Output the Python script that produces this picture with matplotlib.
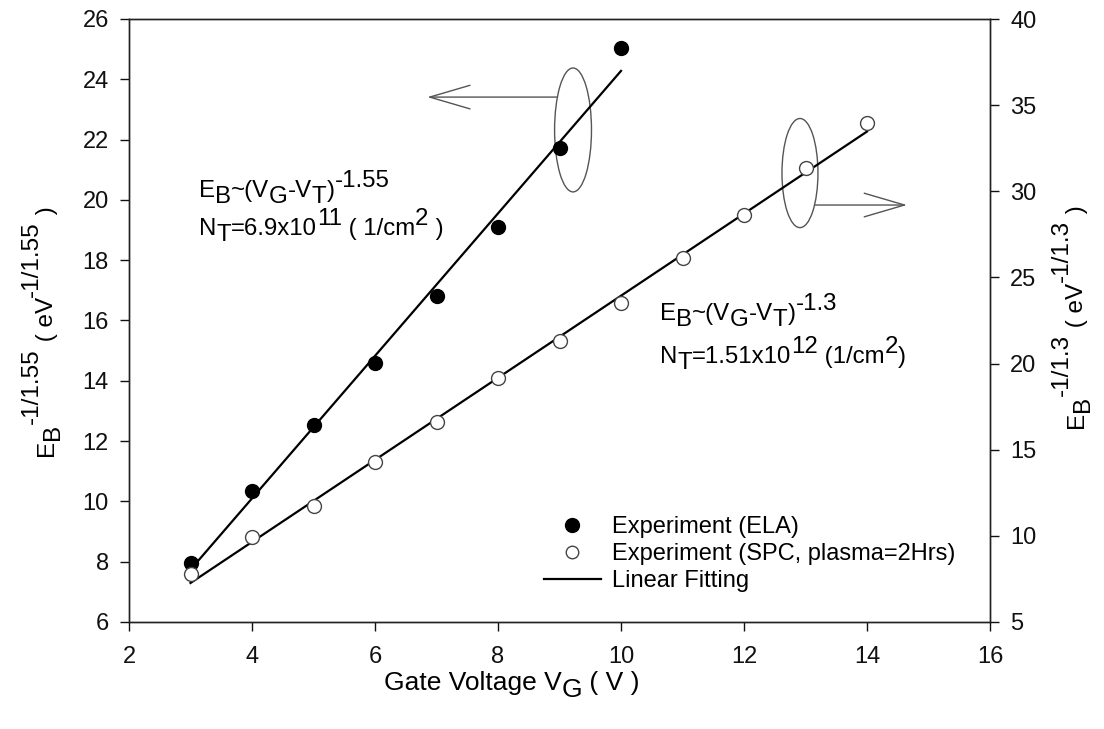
import numpy as np
import matplotlib
matplotlib.use("Agg")
import matplotlib.pyplot as plt
from matplotlib.patches import Ellipse
from matplotlib.lines import Line2D

plt.rcParams['font.family'] = ['Liberation Sans', 'DejaVu Sans']

# ---- data ----
vg_ela = [3, 4, 5, 6, 7, 8, 9, 10]
eb_ela = [7.95, 10.34, 12.52, 14.58, 16.80, 19.11, 21.73, 25.03]   # left axis

vg_spc = [3, 4, 5, 6, 7, 8, 9, 10, 11, 12, 13, 14]
eb_spc = [7.77, 9.92, 11.74, 14.27, 16.61, 19.15, 21.33, 23.53, 26.15, 28.62, 31.33, 33.96]  # right axis

x_ticks = [2, 4, 6, 8, 10, 12, 14, 16]
left_ticks = [6, 8, 10, 12, 14, 16, 18, 20, 22, 24, 26]
right_ticks = [5, 10, 15, 20, 25, 30, 35, 40]

legend_labels = ["Experiment (ELA)", "Experiment (SPC, plasma=2Hrs)", "Linear Fitting"]

W, H = 1104, 729
fig = plt.figure(figsize=(W / 100, H / 100), dpi=100)
L, R, T, B = 129, 990, 19, 622
ax = fig.add_axes([L / W, 1 - B / H, (R - L) / W, (B - T) / H])
ax2 = ax.twinx()

TICK_FS = 17
ANN_FS = 17.3
LAB_FS = 17.5
renderer = fig.canvas.get_renderer()


def rich(x_px, y_px, segs, fs, rot=0, script_scale=1.0, sup_raise=0.42, sub_drop=0.27):
    """Draw text made of segments ('n' normal, 'sub', 'sup'); (x_px, y_px) is the
    baseline start in image pixels (y from top)."""
    cur = 0.0
    em = fs * 100 / 72.0
    y0 = H - y_px
    for txt, kind in segs:
        size = fs if kind == 'n' else fs * script_scale
        off = {'n': 0.0, 'sub': -sub_drop * em, 'sup': sup_raise * em}[kind]
        if rot == 0:
            px, py = x_px + cur, y0 + off
        else:
            px, py = x_px - off, y0 + cur
        t = fig.text(px / W, py / H, txt, fontsize=size, rotation=rot,
                     ha='left', va='baseline', rotation_mode='anchor')
        bb = t.get_window_extent(renderer)
        cur += bb.width if rot == 0 else bb.height


# linear fits
p1 = np.polyfit(vg_ela, eb_ela, 1)
p2 = np.polyfit(vg_spc, eb_spc, 1)
xf1 = np.array([vg_ela[0], vg_ela[-1]])
xf2 = np.array([vg_spc[0], vg_spc[-1]])

ax.plot(xf1, np.polyval(p1, xf1), color='black', lw=1.6, zorder=2)
ax.plot(vg_ela, eb_ela, ls='none', marker='o', ms=10, mfc='black', mec='black', zorder=3)
ax2.plot(xf2, np.polyval(p2, xf2), color='black', lw=1.6, zorder=2)
ax2.plot(vg_spc, eb_spc, ls='none', marker='o', ms=10, mfc='white', mec='#444444', mew=1.0, zorder=3)

ax.set_xlim(2, 16)
ax.set_ylim(6, 26)
ax2.set_ylim(5, 40)
ax.set_xticks(x_ticks)
ax.set_yticks(left_ticks)
ax2.set_yticks(right_ticks)

for a in (ax, ax2):
    for s in a.spines.values():
        s.set_linewidth(1.0)
        s.set_color('#222222')
ax.tick_params(axis='both', direction='out', length=6.5, width=1, labelsize=TICK_FS, pad=8, colors='#111111')
ax.tick_params(axis='x', pad=11)
ax2.tick_params(axis='y', direction='out', length=6.5, width=1, labelsize=TICK_FS, pad=8, colors='#111111')
ax.tick_params(top=False)

# axis labels
rich(384, 690, [("Gate Voltage V", 'n'), ("G", 'sub'), (" ( V )", 'n')], 19)
rich(53, 456, [("E", 'n'), ("B", 'sub'), ("-1/1.55", 'sup'), (" ( eV", 'n'),
               ("-1/1.55", 'sup'), (" )", 'n')], LAB_FS, rot=90, sup_raise=0.62, sub_drop=0.25)
rich(1083, 428, [("E", 'n'), ("B", 'sub'), ("-1/1.3", 'sup'), (" ( eV", 'n'),
                 ("-1/1.3", 'sup'), (" )", 'n')], LAB_FS, rot=90, sup_raise=0.62, sub_drop=0.25)

# annotations
rich(199, 197, [("E", 'n'), ("B", 'sub'), ("~(V", 'n'), ("G", 'sub'), ("-V", 'n'),
                ("T", 'sub'), (")", 'n'), ("-1.55", 'sup')], ANN_FS)
rich(199, 235, [("N", 'n'), ("T", 'sub'), ("=6.9x10", 'n'), ("11", 'sup'),
                (" ( 1/cm", 'n'), ("2", 'sup'), (" )", 'n')], ANN_FS)
rich(660, 320, [("E", 'n'), ("B", 'sub'), ("~(V", 'n'), ("G", 'sub'), ("-V", 'n'),
                ("T", 'sub'), (")", 'n'), ("-1.3", 'sup')], ANN_FS)
rich(660, 363, [("N", 'n'), ("T", 'sub'), ("=1.51x10", 'n'), ("12", 'sup'),
                (" (1/cm", 'n'), ("2", 'sup'), (")", 'n')], ANN_FS)

# ellipses and arrows
ax.add_patch(Ellipse((9.22, 22.32), 0.60, 4.11, fill=False, ec='#555555', lw=1.0, zorder=1))
ax.add_patch(Ellipse((12.91, 20.89), 0.585, 3.62, fill=False, ec='#555555', lw=1.0, zorder=1))
arrow_style = '->,head_length=2.9,head_width=0.85'
ax.annotate('', xy=(6.85, 23.41), xytext=(8.96, 23.41),
            arrowprops=dict(arrowstyle=arrow_style, lw=1.0, color='#555555',
                            shrinkA=0, shrinkB=0, mutation_scale=10))
ax.annotate('', xy=(14.65, 19.83), xytext=(13.15, 19.83),
            arrowprops=dict(arrowstyle=arrow_style, lw=1.0, color='#555555',
                            shrinkA=0, shrinkB=0, mutation_scale=10))

# legend
handles = [
    Line2D([], [], ls='none', marker='o', ms=10, mfc='black', mec='black'),
    Line2D([], [], ls='none', marker='o', ms=9, mfc='white', mec='#444444', mew=1.0),
    Line2D([], [], color='black', lw=1.6),
]
leg = ax2.legend(handles, legend_labels, loc='upper left',
                 bbox_to_anchor=(544 / W, 1 - 516 / H), bbox_transform=fig.transFigure,
                 frameon=False, fontsize=17, handlelength=2.4, handletextpad=0.5,
                 labelspacing=0.22, borderpad=0, borderaxespad=0)

fig.savefig("out.png", dpi=100)
